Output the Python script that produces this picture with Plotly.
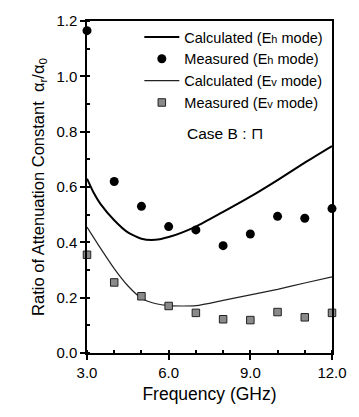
import plotly.graph_objects as go

# Data
calc_eh_f = [3.0, 3.25, 3.5, 4.0, 4.5, 5.0, 5.5, 6.0, 7.0, 8.0, 9.0, 10.0, 11.0, 12.0]
calc_eh_v = [0.63, 0.578, 0.538, 0.48, 0.436, 0.413, 0.409, 0.419, 0.457, 0.51, 0.565, 0.625, 0.688, 0.748]

meas_eh_f = [3.0, 4.0, 5.0, 6.0, 7.0, 8.0, 9.0, 10.0, 11.0, 12.0]
meas_eh_v = [1.165, 0.62, 0.53, 0.457, 0.445, 0.388, 0.43, 0.494, 0.487, 0.522]

calc_ev_f = [3.0, 3.5, 4.0, 4.5, 5.0, 5.5, 6.0, 7.0, 8.0, 9.0, 10.0, 11.0, 12.0]
calc_ev_v = [0.455, 0.378, 0.305, 0.243, 0.198, 0.179, 0.171, 0.171, 0.19, 0.21, 0.23, 0.253, 0.275]

meas_ev_f = [3.0, 4.0, 5.0, 6.0, 7.0, 8.0, 9.0, 10.0, 11.0, 12.0]
meas_ev_v = [0.355, 0.255, 0.205, 0.17, 0.145, 0.122, 0.119, 0.148, 0.129, 0.145]

x_ticks = [3.0, 6.0, 9.0, 12.0]
y_ticks = [0.0, 0.2, 0.4, 0.6, 0.8, 1.0, 1.2]

FONT = "Liberation Sans, Arial, sans-serif"

fig = go.Figure()
fig.add_trace(go.Scatter(x=calc_eh_f, y=calc_eh_v, mode="lines", name="Calculated (E<span style='font-size:11px'>h</span> mode)",
                         line=dict(color="black", width=2, shape="spline", smoothing=0.6)))
fig.add_trace(go.Scatter(x=meas_eh_f, y=meas_eh_v, mode="markers", name="Measured (E<span style='font-size:11px'>h</span> mode)",
                         marker=dict(color="black", size=9, symbol="circle"), cliponaxis=False))
fig.add_trace(go.Scatter(x=calc_ev_f, y=calc_ev_v, mode="lines", name="Calculated (E<span style='font-size:11px'>v</span> mode)",
                         line=dict(color="#222", width=1.2, shape="spline", smoothing=0.6)))
fig.add_trace(go.Scatter(x=meas_ev_f, y=meas_ev_v, mode="markers", name="Measured (E<span style='font-size:11px'>v</span> mode)",
                         marker=dict(color="#8a8a8a", size=7.5, symbol="square",
                                     line=dict(color="#222", width=1)), cliponaxis=False))

fig.add_annotation(x=0.565, y=0.66, xref="paper", yref="paper", text="Case B : ⊓",
                   showarrow=False, font=dict(family=FONT, size=15.5, color="black"))

fig.update_layout(
    width=359, height=417,
    margin=dict(l=87, r=19, t=19, b=64),
    paper_bgcolor="white", plot_bgcolor="white",
    font=dict(family=FONT, size=15, color="black"),
    showlegend=True,
    legend=dict(x=0.985, xanchor="right", y=1.0, yanchor="top", bgcolor="rgba(0,0,0,0)",
                font=dict(family=FONT, size=14.5), tracegroupgap=0, itemwidth=35),
    xaxis=dict(range=[3.0, 12.0], tickvals=x_ticks, ticktext=[f"{v:.1f}" for v in x_ticks],
               showgrid=False, zeroline=False, showline=True, linecolor="black", linewidth=1.5,
               mirror=True, ticks="outside", ticklen=5, tickwidth=1.5, tickcolor="black",
               minor=dict(dtick=1, ticks="inside", ticklen=3, tickcolor="black"),
               title=dict(text="Frequency (GHz)", font=dict(family=FONT, size=17.5), standoff=8),
               tickfont=dict(family=FONT, size=15)),
    yaxis=dict(range=[0.0, 1.2], tickvals=y_ticks, ticktext=[f"{v:.1f}" for v in y_ticks],
               showgrid=False, zeroline=False, showline=True, linecolor="black", linewidth=1.5,
               mirror=True, ticks="outside", ticklen=5, tickwidth=1.5, tickcolor="black",
               minor=dict(dtick=0.1, ticks="inside", ticklen=3, tickcolor="black"),
               title=dict(text="Ratio of Attenuation Constant  α<sub>r</sub>/α<sub>0</sub>",
                          font=dict(family=FONT, size=16.5), standoff=8),
               tickfont=dict(family=FONT, size=15)),
)

fig.write_html("out.html")
